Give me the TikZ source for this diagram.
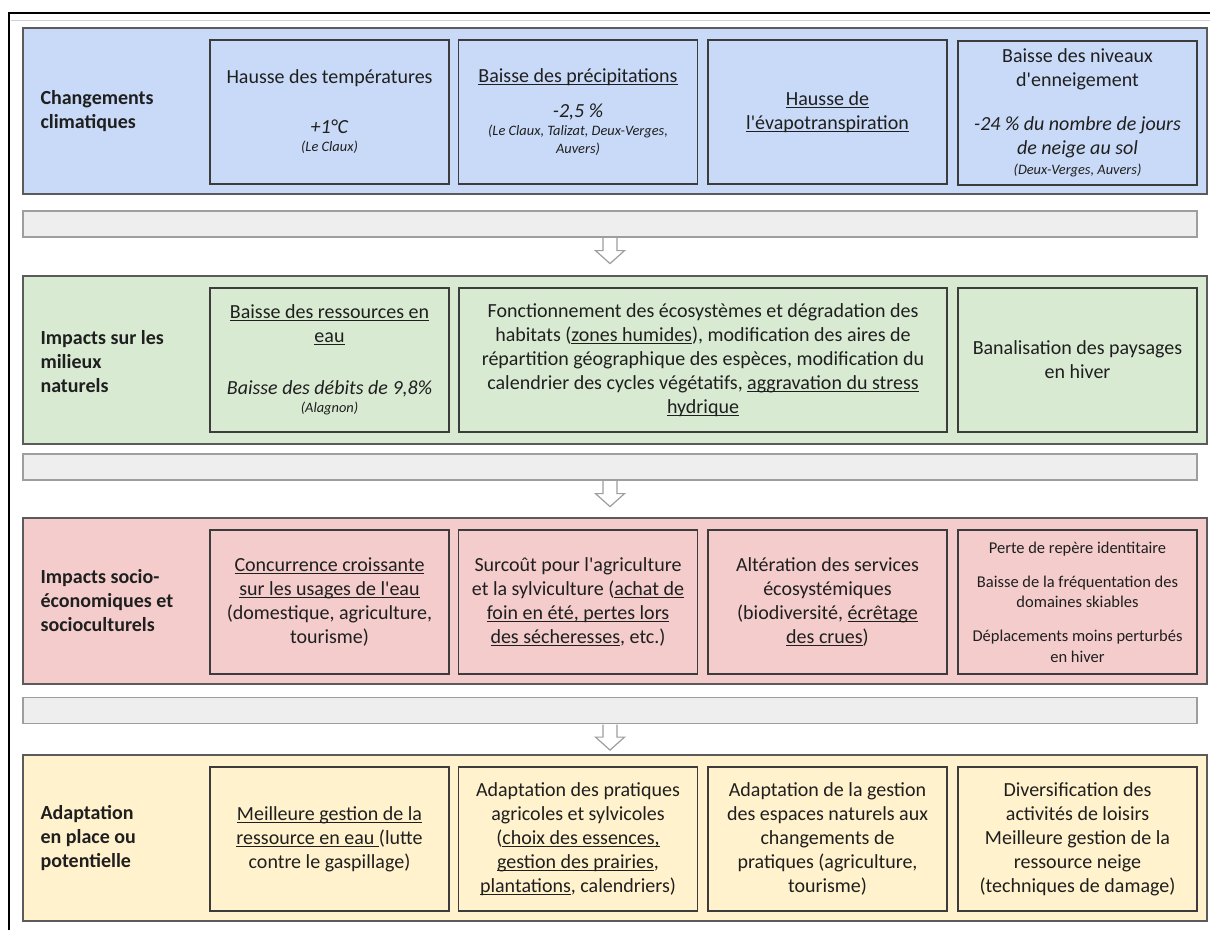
\documentclass[tikz,border=0pt]{standalone}
\usepackage{fontspec}
\setmainfont{Carlito}[Ligatures=TeXOff]

\definecolor{blueF}{HTML}{C9DAF8}
\definecolor{greenF}{HTML}{D9EAD3}
\definecolor{pinkF}{HTML}{F4CCCC}
\definecolor{yellowF}{HTML}{FFF2CC}
\definecolor{barF}{HTML}{EEEEEE}
\definecolor{barD}{HTML}{9E9E9E}
\definecolor{rowD}{HTML}{5B5B5B}
\definecolor{cellD}{HTML}{3C3C3C}

% underline close to the baseline
\newcommand{\undl}[1]{\setbox0=\hbox{#1}\rlap{\rule[-2.4pt]{\wd0}{1pt}}\box0}
\newcommand{\smalltxt}{\fontsize{14.4}{17}\selectfont\itshape}

\begin{document}
\begin{tikzpicture}[x=1pt,y=-1pt,
	every node/.style={font=\fontsize{20}{24}\selectfont, text=black!88},
	row/.style={draw=rowD, line width=1.2pt, minimum width=1184pt, minimum height=166pt, inner sep=0pt},
	cell/.style={draw=cellD, line width=1.4pt, minimum width=239pt, minimum height=144pt, align=center, inner sep=2pt},
	rowlabel/.style={anchor=west, align=left, font=\fontsize{20}{24}\selectfont\bfseries},
	bar/.style={draw=barD, fill=barF, line width=1.2pt, minimum width=1174pt, minimum height=26pt, inner sep=0pt},
	arrowline/.style={draw=barD, fill=white, line width=1.2pt, line join=miter}]
	\useasboundingbox (0,0) rectangle (1210,930);
	\fill[white] (0,0) rectangle (1210,930);
	
	%screen frame
	\draw[gray!35, line width=1pt] (11,20) -- (1210,20);
	\draw[line width=2.5pt] (9,930) -- (9,13) -- (1210,13);
	
	%rows
	\node[row, fill=blueF] (chg) at (615,111) {};
	\node[row, fill=greenF, minimum height=168pt] (nat) at (615,360) {};
	\node[row, fill=pinkF] (soc) at (615,601) {};
	\node[row, fill=yellowF] (ada) at (615,838) {};
	
	\node[rowlabel] (chgL) at (37,111) {Changements\\climatiques};
	\node[rowlabel] (natL) at (37,362) {Impacts sur les\\milieux\\naturels};
	\node[rowlabel] (socL) at (37,601) {Impacts socio-\\économiques et\\socioculturels};
	\node[rowlabel] (adaL) at (37,838) {Adaptation\\en place ou\\potentielle};
	
	%changements climatiques
	\node[cell] (chg1) at (329.5,112) {Hausse des températures\\[26pt]\textit{+1°C}\\[-6pt]{\smalltxt (Le Claux)}};
	\node[cell] (chg2) at (578,112) {\undl{Baisse des précipitations}\\[11pt]\textit{-2,5 \%}\\[-6pt]{\smalltxt (Le Claux, Talizat, Deux-Verges,}\\[-6pt]{\smalltxt Auvers)}};
	\node[cell] (chg3) at (827.5,112) {\undl{Hausse de}\\\undl{l'évapotranspiration}};
	\node[cell] (chg4) at (1077.5,113) {Baisse des niveaux\\d'enneigement\\[20pt]\textit{-24 \% du nombre de jours}\\\textit{de neige au sol}\\[-4pt]{\smalltxt (Deux-Verges, Auvers)}};
	
	%milieux naturels
	\node[cell] (nat1) at (329.5,360) {\undl{Baisse des ressources en}\\\undl{eau}\\[28pt]\textit{Baisse des débits de 9,8\%}\\[-6pt]{\smalltxt (Alagnon)}};
	\node[cell, minimum width=488pt] (nat2) at (703,360) {Fonctionnement des écosystèmes et dégradation des\\habitats (\undl{zones humides}), modification des aires de\\répartition géographique des espèces, modification du\\calendrier des cycles végétatifs, \undl{aggravation du stress}\\\undl{hydrique}};
	\node[cell] (nat3) at (1077.5,360) {Banalisation des paysages\\en hiver};
	
	%socio-economie
	\node[cell] (soc1) at (329.5,602) {\undl{Concurrence croissante}\\\undl{sur les usages de l'eau}\\(domestique, agriculture,\\tourisme)};
	\node[cell] (soc2) at (578,602) {Surcoût pour l'agriculture\\et la sylviculture (\undl{achat de}\\\undl{foin en été, pertes lors}\\\undl{des sécheresses}, etc.)};
	\node[cell] (soc3) at (827.5,602) {Altération des services\\écosystémiques\\(biodiversité, \undl{écrêtage}\\\undl{des crues})};
	\node[cell, font=\fontsize{16.5}{20.5}\selectfont] (soc4) at (1077.5,602) {Perte de repère identitaire\\[13.5pt]Baisse de la fréquentation des\\domaines skiables\\[13.5pt]Déplacements moins perturbés\\en hiver};
	
	%adaptation
	\node[cell] (ada1) at (329.5,839) {\undl{Meilleure gestion de la}\\\undl{ressource en eau }(lutte\\contre le gaspillage)};
	\node[cell] (ada2) at (578,839) {Adaptation des pratiques\\agricoles et sylvicoles\\(\undl{choix des essences,}\\\undl{gestion des prairies},\\\undl{plantations}, calendriers)};
	\node[cell] (ada3) at (827.5,839) {Adaptation de la gestion\\des espaces naturels aux\\changements de\\pratiques (agriculture,\\tourisme)};
	\node[cell] (ada4) at (1077.5,839) {Diversification des\\activités de loisirs\\Meilleure gestion de la\\ressource neige\\(techniques de damage)};
	
	%bars and arrows
	\foreach \b/\y in {A/224, B/467, C/710.5}{
		\node[bar] (bar\b) at (610,\y) {};
		\draw[arrowline] ([xshift=-7pt,yshift=-0.6pt]bar\b.south) -- ++(0,12.4) -- ++(-7.5,0) -- ++(14.5,13) -- ++(14.5,-13) -- ++(-7.5,0) -- ([xshift=7pt,yshift=-0.6pt]bar\b.south);
	}
\end{tikzpicture}
\end{document}
